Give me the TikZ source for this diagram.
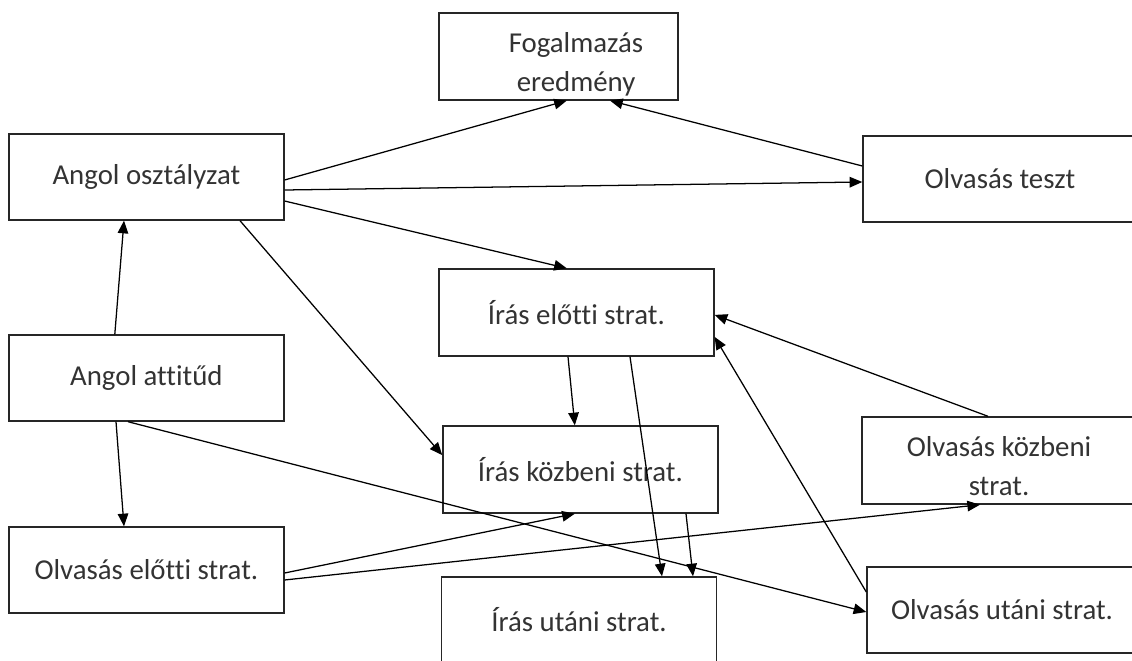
\documentclass[tikz,border=0pt]{standalone}
\usepackage{fontspec}
\setmainfont{Carlito}[Ligatures=CommonOff]
\usetikzlibrary{arrows.meta}
\tikzset{>={Triangle[length=9pt,width=7.5pt]}}
\tikzset{stratbox/.style={draw=black!85,line width=1pt,minimum width=6.875cm,
  minimum height=2.15cm,text=black!80,font=\fontsize{20.5}{26.5}\selectfont,align=center},
  stratlabel/.style={text=black!80,font=\fontsize{20.5}{27.5}\selectfont,align=center}}

\begin{document}
\begin{tikzpicture}[line width=0.9pt]
\clip (0,0) rectangle (28.3,16.5);
% boxes
\node[stratbox,minimum width=5.975cm,minimum height=2.175cm] (fog) at (13.96,15.09) {};
\node[stratlabel] (fogtext) at ([xshift=.44cm,yshift=-.2cm]fog.center) {Fogalmazás\\eredmény};
\node[stratbox] (ango) at (3.66,12.075) {Angol osztályzat};
\node[stratbox,minimum width=6.85cm] (olvt) at (25.0,12.025) {Olvasás teszt};
\node[stratbox,minimum height=2.175cm] (irel) at (14.41,8.6875) {Írás előtti strat.};
\node[stratbox] (anat) at (3.66,7.05) {Angol attitűd};
\node[stratbox,minimum height=2.175cm] (irko) at (14.51,4.7625) {Írás közbeni strat.};
\node[stratbox,minimum width=6.85cm,minimum height=2.175cm] (olko) at (24.975,4.9875) {};
\node[stratlabel] (olkotext) at ([yshift=-.14cm]olko.center) {Olvasás közbeni\\strat.};
\node[stratbox] (olel) at (3.66,2.25) {Olvasás előtti strat.};
\node[stratbox] (irut) at (14.475,1.0) {Írás utáni strat.};
\node[stratbox,minimum width=6.75cm] (olut) at (25.05,1.25) {Olvasás utáni strat.};

% arrows
\draw[->] ([yshift=-.075cm]ango.east) -- ([xshift=.21cm]fog.south);
\draw[->] ([yshift=-.325cm]ango.east) -- ([yshift=-.075cm]olvt.west);
\draw[->] ([yshift=-.6cm]ango.east) -- ([xshift=-.24cm]irel.north);
\draw[->] ([xshift=2.34cm]ango.south) -- ([yshift=.36cm]irko.west);
\draw[->] ([yshift=.325cm]olvt.west) -- ([xshift=1.29cm]fog.south);
\draw[->] ([xshift=-.79cm]anat.north) -- ([xshift=-.56cm]ango.south);
\draw[->] ([xshift=-.76cm]anat.south) -- ([xshift=-.56cm]olel.north);
\draw[->] ([xshift=-.46cm]anat.south) -- ([yshift=-.05cm]olut.west);
\draw[->] ([xshift=-.21cm]irel.south) -- ([xshift=-.14cm]irko.north);
\draw[->] ([xshift=1.34cm]irel.south) -- ([xshift=2.075cm]irut.north);
\draw[->] ([xshift=2.64cm]irko.south) -- ([xshift=2.85cm]irut.north);
\draw[->] ([xshift=-.275cm]olko.north) -- ([yshift=-.06cm]irel.east);
\draw[->] ([yshift=.45cm]olut.west) -- ([yshift=-.61cm]irel.east);
\draw[->] ([yshift=-.075cm]olel.east) -- ([xshift=-.14cm]irko.south);
\draw[->] ([yshift=-.25cm]olel.east) -- ([xshift=-.475cm]olko.south);
\end{tikzpicture}
\end{document}
